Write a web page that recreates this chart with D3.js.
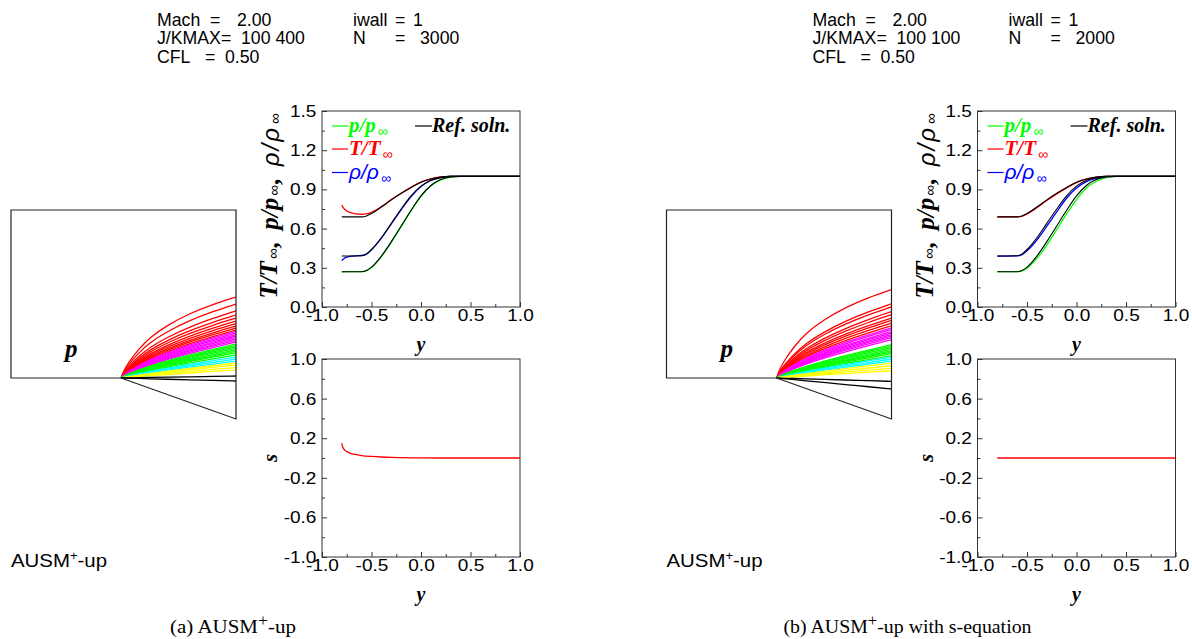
<!DOCTYPE html>
<html><head><meta charset="utf-8">
<script src="https://cdnjs.cloudflare.com/ajax/libs/d3/7.8.5/d3.min.js"></script>
<style>body{margin:0;background:#fff} svg{display:block}</style>
</head><body><svg id="c" width="1192" height="639"></svg>
<script>
// reference (exact) profiles, same in both panels
const refY   = [-0.8, -0.6, -0.55, -0.5, -0.4, -0.3, -0.2, -0.1, 0.0, 0.1, 0.2, 0.3, 0.4, 1.0];
const refP   = [0.27, 0.27, 0.28, 0.305, 0.39, 0.50, 0.62, 0.74, 0.85, 0.93, 0.975, 0.995, 1.0, 1.0];
const refRho = [0.39, 0.392, 0.405, 0.44, 0.53, 0.64, 0.75, 0.85, 0.925, 0.97, 0.99, 1.0, 1.0, 1.0];
const refT   = [0.69, 0.69, 0.697, 0.715, 0.765, 0.82, 0.87, 0.915, 0.955, 0.98, 0.995, 1.0, 1.0, 1.0];

// (a) AUSM+-up
const aY   = [-0.8, -0.78, -0.75, -0.7, -0.65, -0.6, -0.55, -0.5, -0.4, -0.3, -0.2, -0.1, 0.0, 0.1, 0.2, 0.3, 0.4, 1.0];
const aT   = [0.78, 0.755, 0.735, 0.72, 0.712, 0.71, 0.712, 0.725, 0.768, 0.822, 0.871, 0.916, 0.955, 0.98, 0.995, 1.0, 1.0, 1.0];
const aRho = [0.355, 0.37, 0.382, 0.39, 0.392, 0.394, 0.405, 0.438, 0.527, 0.636, 0.746, 0.846, 0.922, 0.968, 0.99, 1.0, 1.0, 1.0];
const aP   = [0.268, 0.269, 0.27, 0.27, 0.27, 0.27, 0.278, 0.302, 0.386, 0.495, 0.615, 0.736, 0.846, 0.927, 0.973, 0.994, 1.0, 1.0];
const aSY  = [-0.8, -0.795, -0.785, -0.77, -0.75, -0.72, -0.68, -0.6, -0.5, -0.4, -0.3, -0.2, -0.1, 0.0, 0.2, 0.5, 1.0];
const aS   = [0.15, 0.125, 0.1, 0.08, 0.064, 0.05, 0.038, 0.025, 0.016, 0.01, 0.006, 0.004, 0.002, 0.001, 0.0, 0.0, 0.0];

// (b) AUSM+-up with s-equation
const bY   = [-0.8, -0.6, -0.55, -0.5, -0.4, -0.3, -0.2, -0.1, 0.0, 0.1, 0.2, 0.3, 0.4, 1.0];
const bP   = [0.27, 0.27, 0.276, 0.297, 0.372, 0.474, 0.592, 0.712, 0.822, 0.91, 0.962, 0.99, 0.999, 1.0];
const bRho = [0.39, 0.391, 0.40, 0.43, 0.513, 0.618, 0.728, 0.832, 0.91, 0.96, 0.985, 0.998, 1.0, 1.0];
const bT   = [0.69, 0.69, 0.695, 0.712, 0.76, 0.815, 0.866, 0.912, 0.952, 0.978, 0.993, 0.999, 1.0, 1.0];
const bSY  = [-0.8, 1.0];
const bS   = [0.0, 0.0];

// pressure contour fan: end heights at outflow (fraction of box height above wall)
const fanShapeT = [0, 0.03, 0.08, 0.15, 0.25, 0.4, 0.6, 0.8, 1];
const fanShapeF = [0, 0.11, 0.22, 0.35, 0.5, 0.65, 0.8, 0.91, 1];
const fanEndsA = [0.482, 0.440, 0.399, 0.375, 0.357, 0.339, 0.324, 0.310, 0.298, 0.286,
  0.277, 0.268, 0.259, 0.250, 0.241, 0.232, 0.223, 0.214,
  0.202, 0.193, 0.185, 0.176, 0.167, 0.158, 0.149, 0.137,
  0.125, 0.113, 0.101, 0.089, 0.077, 0.0625, 0.048, 0.012, -0.018];
const fanEndsB = [0.526, 0.442, 0.424, 0.395, 0.377, 0.357, 0.343, 0.327, 0.311,
  0.298, 0.288, 0.276, 0.267, 0.258, 0.249, 0.240, 0.228,
  0.198, 0.189, 0.180, 0.171, 0.162, 0.154, 0.145, 0.133,
  0.124, 0.112, 0.100, 0.088, 0.073, 0.058, 0.043, -0.020, -0.065];
const fanColorsA = [].concat(Array(10).fill("#ff0000"), Array(8).fill("#ff00ff"), Array(8).fill("#00ff00"),
  Array(3).fill("#00ffff"), Array(4).fill("#ffff00"), Array(2).fill("#000000"));
const fanColorsB = [].concat(Array(9).fill("#ff0000"), Array(8).fill("#ff00ff"), Array(8).fill("#00ff00"),
  Array(3).fill("#00ffff"), Array(4).fill("#ffff00"), Array(2).fill("#000000"));

const topTicks = [0, 0.3, 0.6, 0.9, 1.2, 1.5];
const botTicks = [-1.0, -0.6, -0.2, 0.2, 0.6, 1.0];
const xTicks = [-1.0, -0.5, 0.0, 0.5, 1.0];

const svg = d3.select("#c");
const SANS = "Arial, 'Liberation Sans', Helvetica, sans-serif";
const SERIF = "'Times New Roman', 'Liberation Serif', serif";
const GREEN = "#00ff00", RED = "#ff0000", BLUE = "#0000ff";

function zip(xs, ys) { return xs.map((x, i) => [x, ys[i]]); }

function styleTicks(sel) {
  sel.select(".domain").remove();
  sel.selectAll("line").attr("stroke", "#333");
  sel.selectAll("text").style("font-family", SANS).style("font-size", "17px").attr("fill", "#000")
    .attr("transform", "scale(1.12,1)");
}

function frame(g, x, y, yTicks, yMinor, xMinor, yLabelY) {
  const ax = g.append("g").attr("transform", `translate(0,${y.range()[0]})`)
    .call(d3.axisBottom(x).tickValues(xTicks).tickSize(-5).tickPadding(2).tickFormat(d => d.toFixed(1)));
  styleTicks(ax);
  const axm = g.append("g").attr("transform", `translate(0,${y.range()[0]})`)
    .call(d3.axisBottom(x).tickValues(xMinor).tickSize(-3).tickFormat(""));
  styleTicks(axm);
  const ay = g.append("g").attr("transform", `translate(${x.range()[0]},0)`)
    .call(d3.axisLeft(y).tickValues(yTicks).tickSize(-5).tickPadding(5).tickFormat(d => d.toFixed(1)));
  styleTicks(ay);
  const aym = g.append("g").attr("transform", `translate(${x.range()[0]},0)`)
    .call(d3.axisLeft(y).tickValues(yMinor).tickSize(-3).tickFormat(""));
  styleTicks(aym);
  g.append("rect").attr("x", x.range()[0]).attr("y", y.range()[1])
    .attr("width", x.range()[1] - x.range()[0]).attr("height", y.range()[0] - y.range()[1])
    .attr("fill", "none").attr("stroke", "#333").attr("stroke-width", 1);
  g.append("text").attr("x", (x.range()[0] + x.range()[1]) / 2).attr("y", yLabelY)
    .attr("text-anchor", "middle").style("font-family", SERIF).style("font-size", "20px")
    .style("font-weight", "bold").style("font-style", "italic").text("y");
}

function ratioLabel(t, sym, bold, family, size, subSize, subDy, spacing) {
  t.append("tspan").style("font-family", family).style("font-size", size + "px").style("font-weight", bold ? "bold" : "normal")
    .style("font-style", "italic").style("letter-spacing", (spacing || 0) + "px").text(sym + "/" + sym);
  t.append("tspan").style("font-size", subSize + "px").style("font-family", SANS).style("font-weight", "normal")
    .style("font-style", "normal").style("letter-spacing", "0px").attr("dx", 2).attr("dy", subDy).text("\u221e");
  t.append("tspan").style("font-size", size + "px").attr("dy", -subDy).text("");
}

function drawPanel(cfg) {
  const dx = cfg.dx;
  const g = svg.append("g");

  // header block
  const head = g.append("g").style("font-family", SANS).style("font-size", "17.7px").attr("fill", "#000");
  cfg.header.forEach(h => head.append("text").attr("x", dx + h[0]).attr("y", h[1]).text(h[2]));

  // contour picture
  const xc = d3.scaleLinear([0, 1], [dx + 11, dx + 236]);
  const yc = d3.scaleLinear([0, 1], [378, 210]);
  const corner = 0.489, wedgeEnd = -0.244;
  const fanLine = d3.line().curve(d3.curveBasis);
  const eMax = d3.max(cfg.fanEnds);
  cfg.fanEnds.forEach((e, i) => {
    const w = Math.max(0, e / eMax);
    const pts = fanShapeT.map((t, k) => [xc(corner + t * (1 - corner)), yc(e * (w * fanShapeF[k] + (1 - w) * t))]);
    g.append("path").attr("d", fanLine(pts)).attr("fill", "none")
      .attr("stroke", cfg.fanColors[i]).attr("stroke-width", 1.3);
  });
  const box = d3.line();
  g.append("path").attr("d", box([[xc(corner), yc(0)], [xc(0), yc(0)], [xc(0), yc(1)], [xc(1), yc(1)], [xc(1), yc(wedgeEnd)], [xc(corner), yc(0)]]))
    .attr("fill", "none").attr("stroke", "#222").attr("stroke-width", 1.2);
  g.append("text").attr("x", dx + 65).attr("y", 357).style("font-family", SERIF).style("font-size", "25px")
    .style("font-weight", "bold").style("font-style", "italic").text("p");
  const au = g.append("text").attr("x", dx + 11).attr("y", 567).style("font-family", SANS).style("font-size", "19px")
    .attr("textLength", 96).attr("lengthAdjust", "spacingAndGlyphs");
  au.append("tspan").text("AUSM");
  au.append("tspan").style("font-size", "12px").attr("dy", -7).text("+");
  au.append("tspan").attr("dy", 7).text("-up");

  // top plot
  const x = d3.scaleLinear([-1, 1], [dx + 322, dx + 520]);
  const yT = d3.scaleLinear([0, 1.5], [307, 111]);
  frame(g, x, yT, topTicks, [0.15, 0.45, 0.75, 1.05, 1.35], [-0.75, -0.25, 0.25, 0.75], 351);
  const lT = d3.line().x(d => x(d[0])).y(d => yT(d[1])).curve(d3.curveMonotoneX);
  [[cfg.y, cfg.T, RED], [cfg.y, cfg.rho, BLUE], [cfg.y, cfg.p, GREEN]].forEach(s => {
    g.append("path").attr("d", lT(zip(s[0], s[1]))).attr("fill", "none").attr("stroke", s[2]).attr("stroke-width", 1.3);
  });
  [refT, refRho, refP].forEach(v => {
    g.append("path").attr("d", lT(zip(refY, v))).attr("fill", "none").attr("stroke", "#000").attr("stroke-width", 1.1);
  });

  // legend
  const leg = [[GREEN, 126, "p", true, SERIF, 21], [RED, 149, "T", true, SERIF, 21], [BLUE, 172.5, "\u03c1", false, SANS, 21]];
  leg.forEach(l => {
    g.append("line").attr("x1", dx + 332).attr("x2", dx + 348).attr("y1", l[1]).attr("y2", l[1]).attr("stroke", l[0]).attr("stroke-width", 1.2);
    const t = g.append("text").attr("x", dx + 349).attr("y", l[1] + 6).attr("fill", l[0]);
    ratioLabel(t, l[2], l[3], l[4], l[5], 14, 4);
  });
  g.append("line").attr("x1", dx + 415).attr("x2", dx + 432).attr("y1", 126).attr("y2", 126).attr("stroke", "#000").attr("stroke-width", 1.2);
  g.append("text").attr("x", dx + 432).attr("y", 132).style("font-family", SERIF).style("font-size", "20px")
    .style("font-weight", "bold").style("font-style", "italic").text("Ref. soln.");

  // y axis title
  const yl = g.append("text").attr("transform", `translate(${dx + 277},206) rotate(-90)`).attr("text-anchor", "middle")
    .attr("fill", "#000");
  ratioLabel(yl, "T", true, SERIF, 25, 15, 1);
  yl.append("tspan").style("font-family", SERIF).style("font-size", "25px").style("font-weight", "bold").text(",\u2002");
  ratioLabel(yl, "p", true, SERIF, 25, 15, 1);
  yl.append("tspan").style("font-family", SERIF).style("font-size", "25px").style("font-weight", "bold").text(",\u2002");
  ratioLabel(yl, "\u03c1", false, SANS, 24, 15, 1, 2);

  // bottom plot
  const yS = d3.scaleLinear([-1, 1], [557, 359]);
  frame(g, x, yS, botTicks, [-0.8, -0.4, 0.0, 0.4, 0.8], [-0.75, -0.25, 0.25, 0.75], 601);
  const lS = d3.line().x(d => x(d[0])).y(d => yS(d[1])).curve(d3.curveMonotoneX);
  g.append("path").attr("d", lS(zip(cfg.sY, cfg.s))).attr("fill", "none").attr("stroke", RED).attr("stroke-width", 1.3);
  g.append("text").attr("transform", `translate(${dx + 277},458) rotate(-90)`).attr("text-anchor", "middle")
    .style("font-family", SERIF).style("font-size", "21px").style("font-weight", "bold").style("font-style", "italic").text("s");

  // caption
  const cap = g.append("text").attr("x", dx + cfg.capX).attr("y", 633).style("font-family", SERIF).style("font-size", "19px")
    .attr("textLength", cfg.capW).attr("lengthAdjust", "spacingAndGlyphs");
  cap.append("tspan").text(cfg.cap[0]);
  cap.append("tspan").style("font-size", "16px").attr("dy", -7).text("+");
  cap.append("tspan").attr("dy", 7).text(cfg.cap[1]);
}

drawPanel({
  dx: 0, y: aY, p: aP, rho: aRho, T: aT, sY: aSY, s: aS,
  fanEnds: fanEndsA, fanColors: fanColorsA,
  header: [[157, 26], [210, 26], [237, 26], [353, 26], [395, 26], [413, 26],
           [157, 44], [241, 44], [353, 44], [395, 44], [420, 44],
           [157, 63], [205, 63], [225, 63]].map((p, i) =>
           [p[0], p[1], ["Mach", "=", "2.00", "iwall", "=", "1", "J/KMAX=", "100 400", "N", "=", "3000", "CFL", "=", "0.50"][i]]),
  cap: ["(a)  AUSM", "-up"], capX: 170, capW: 126
});
drawPanel({
  dx: 655.5, y: bY, p: bP, rho: bRho, T: bT, sY: bSY, s: bS,
  fanEnds: fanEndsB, fanColors: fanColorsB,
  header: [[157, 26], [210, 26], [237, 26], [353, 26], [395, 26], [413, 26],
           [157, 44], [241, 44], [353, 44], [395, 44], [420, 44],
           [157, 63], [205, 63], [225, 63]].map((p, i) =>
           [p[0], p[1], ["Mach", "=", "2.00", "iwall", "=", "1", "J/KMAX=", "100 100", "N", "=", "2000", "CFL", "=", "0.50"][i]]),
  cap: ["(b)  AUSM", "-up with s-equation"], capX: 128, capW: 248
});
</script></body></html>
